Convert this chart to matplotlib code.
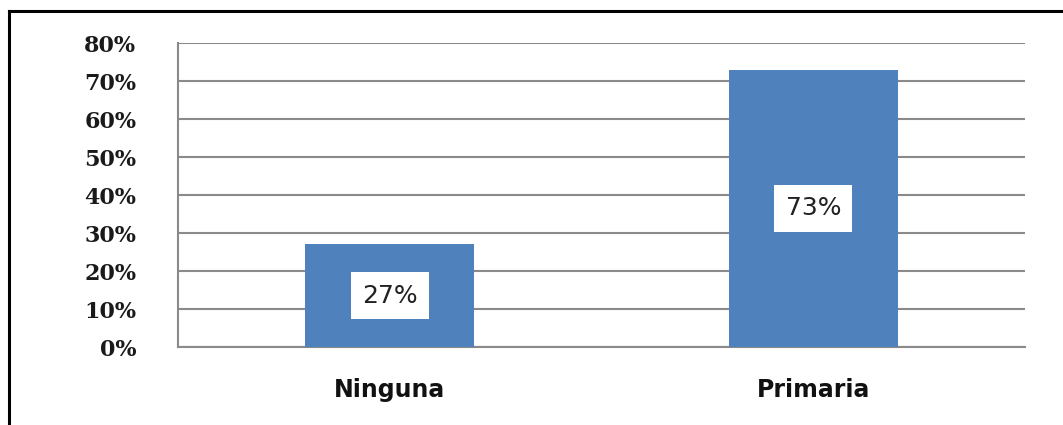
import matplotlib
matplotlib.use("Agg")
import matplotlib.pyplot as plt
from matplotlib.lines import Line2D

categories = ["Ninguna", "Primaria"]
values = [27, 73]
yticks = [0, 10, 20, 30, 40, 50, 60, 70, 80]
ytick_labels = [f"{v}%" for v in yticks]

fig = plt.figure(figsize=(10.63, 4.25), dpi=100)
ax = fig.add_axes([178/1063, 1-347/425, (1025-178)/1063, (347-43)/425])

x = range(len(categories))
ax.bar(x, values, width=0.4, color="#4F81BD", zorder=3)
ax.set_xlim(-0.5, 1.5)
ax.set_ylim(0, 80)
ax.set_yticks(yticks)
ax.set_yticklabels(ytick_labels, family="DejaVu Serif", fontweight="bold", fontsize=16, color="#1a1a1a")
ax.set_xticks(list(x))
ax.set_xticklabels(categories, family="DejaVu Sans", fontweight="bold", fontsize=17, color="#111111")
ax.tick_params(axis="y", length=0, pad=30)
ax.tick_params(axis="x", length=0, pad=22)
ax.yaxis.grid(True, color="#8a8a8a", linewidth=1.5, zorder=0)
ax.set_axisbelow(True)
for s in ["top", "right"]:
    ax.spines[s].set_visible(False)
for s in ["left", "bottom"]:
    ax.spines[s].set_color("#8a8a8a")
    ax.spines[s].set_linewidth(1.5)

for xi, v in zip(x, values):
    ax.text(xi, v/2, f"{v}%", ha="center", va="center", fontsize=18, color="#222222",
            family="DejaVu Sans", zorder=4,
            bbox=dict(facecolor="white", edgecolor="none", boxstyle="square,pad=0.45"))

# figure border (top and left)
fig.add_artist(Line2D([9/1063, 9/1063], [0, 1-11/425], transform=fig.transFigure, color="black", linewidth=2.2))
fig.add_artist(Line2D([9/1063, 1], [1-11/425, 1-11/425], transform=fig.transFigure, color="black", linewidth=2.2))

fig.savefig("out.png", dpi=100)
